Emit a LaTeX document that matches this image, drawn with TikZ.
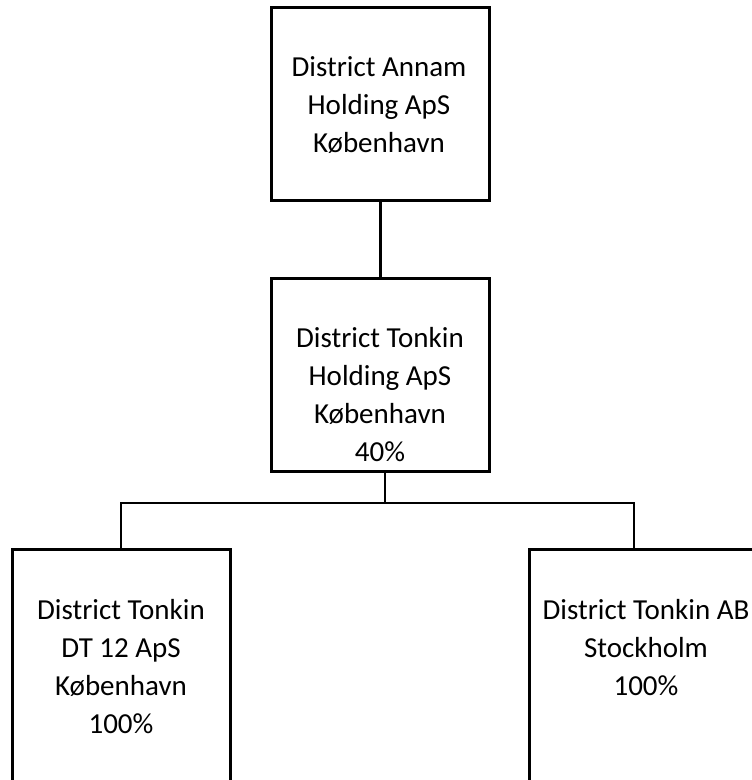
\documentclass[tikz,border=0pt]{standalone}
\usepackage{fontspec}
\setmainfont{Carlito}
\tikzset{
	unit/.style={draw, rectangle, line width=3pt, inner sep=0pt, minimum width=218pt, minimum height=193pt},
	link/.style={line width=3pt},
	forkline/.style={line width=2pt},
	lbl/.style={align=center, inner sep=0pt, font=\fontsize{29}{38}\selectfont}
}
\begin{document}
\begin{tikzpicture}[x=1pt,y=1pt]
	\useasboundingbox (0,0) rectangle (752,780);
	\clip (0,0) rectangle (752,780);
	% boxes
	\node[unit] (annam) at (380,675.5) {};
	\node[unit] (tonkinhold) at (380,404.5) {};
	\node[unit, minimum height=300pt] (dt12) at (121,80) {};
	\node[unit, minimum width=300pt, minimum height=300pt] (ab) at (679,80) {};
	% texts
	\node[lbl] (annamtxt) at (379,674.5) {District Annam\\Holding ApS\\København};
	\node[lbl] (tonkintxt) at (380,385.5) {District Tonkin\\Holding ApS\\København\\40\%};
	\node[lbl] (dt12txt) at (121,113.5) {District Tonkin\\DT 12 ApS\\København\\100\%};
	\node[lbl] (abtxt) at (646,132.5) {District Tonkin AB\\Stockholm\\100\%};
	% lines
	\coordinate (fork) at (385,277);
	\coordinate (abtop) at (634,230);
	\draw[link] (annam.south) -- (tonkinhold.north);
	\draw[forkline] (tonkinhold.south -| fork) -- (fork);
	\draw[forkline] (dt12.north) |- (fork) -| (abtop);
\end{tikzpicture}
\end{document}
